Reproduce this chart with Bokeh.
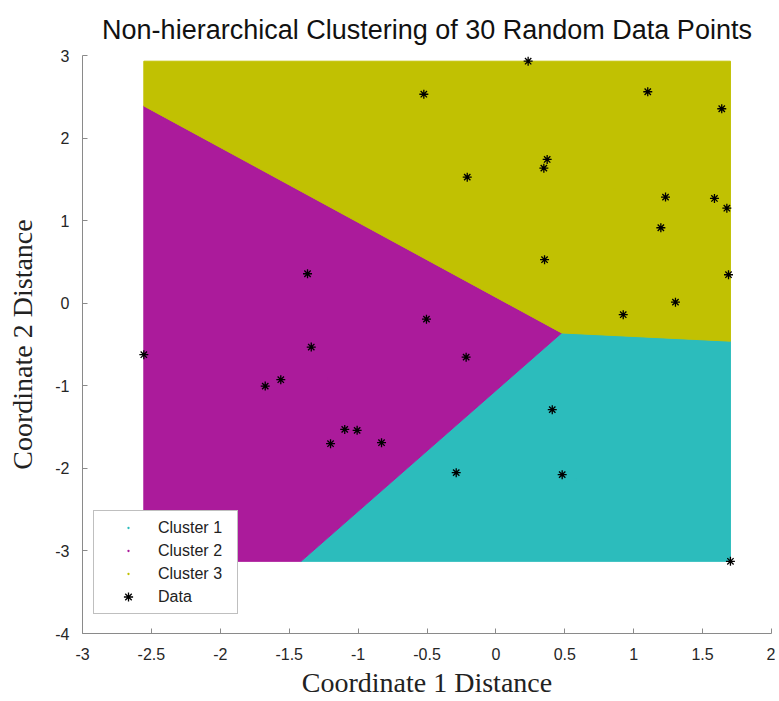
import numpy as np
from bokeh.plotting import figure
from bokeh.models import Legend, LegendItem, FixedTicker
from bokeh.embed import file_html
from bokeh.resources import INLINE

TITLE = "Non-hierarchical Clustering of 30 Random Data Points"
X_LABEL = "Coordinate 1 Distance"
Y_LABEL = "Coordinate 2 Distance"

# 30 data points and their cluster (1, 2, 3)
data_x = [-0.523, 0.234, 1.102, 1.639, 0.372, 0.348, -0.208, 1.231, 1.586, 1.676,
          1.197, 0.353, 1.688, 1.303, 0.924,
          -0.504, -1.367, -2.555, -1.340, -0.216, -1.674, -1.561, -1.097, -1.007,
          -1.200, -0.830,
          0.409, -0.288, 0.481, 1.702]
data_y = [2.531, 2.931, 2.561, 2.355, 1.741, 1.636, 1.527, 1.285, 1.269, 1.151,
          0.914, 0.527, 0.345, 0.013, -0.139,
          -0.193, 0.357, -0.623, -0.531, -0.653, -1.004, -0.926, -1.528, -1.540,
          -1.701, -1.689,
          -1.289, -2.052, -2.076, -3.126]
cluster = [3, 3, 3, 3, 3, 3, 3, 3, 3, 3,
           3, 3, 3, 3, 3,
           2, 2, 2, 2, 2, 2, 2, 2, 2,
           2, 2,
           1, 1, 1, 1]

cluster_names = ["Cluster 1", "Cluster 2", "Cluster 3"]
cluster_colors = ["#2cbcbc", "#ab1b9b", "#c1c102"]

x_ticks = [-3, -2.5, -2, -1.5, -1, -0.5, 0, 0.5, 1, 1.5, 2]
x_tick_labels = ["-3", "-2.5", "-2", "-1.5", "-1", "-0.5", "0", "0.5", "1", "1.5", "2"]
y_ticks = [-4, -3, -2, -1, 0, 1, 2, 3]
y_tick_labels = ["-4", "-3", "-2", "-1", "0", "1", "2", "3"]

# ---- cluster regions: nearest-centroid cells inside the data bounding box ----
X = np.array(data_x)
Y = np.array(data_y)
C = np.array(cluster)
cents = [(X[C == k].mean(), Y[C == k].mean()) for k in (1, 2, 3)]
xmin, xmax, ymin, ymax = X.min(), X.max(), Y.min(), Y.max()


def clip(poly, a, b, c):
    # keep the part of the polygon where a*x + b*y <= c
    out = []
    n = len(poly)
    for i in range(n):
        p1 = poly[i]
        p2 = poly[(i + 1) % n]
        v1 = a * p1[0] + b * p1[1] - c
        v2 = a * p2[0] + b * p2[1] - c
        if v1 <= 0:
            out.append(p1)
        if (v1 <= 0) != (v2 <= 0):
            t = v1 / (v1 - v2)
            out.append((p1[0] + t * (p2[0] - p1[0]), p1[1] + t * (p2[1] - p1[1])))
    return out


cell_xs, cell_ys = [], []
for k in range(3):
    poly = [(xmin, ymin), (xmax, ymin), (xmax, ymax), (xmin, ymax)]
    ck = cents[k]
    for j in range(3):
        if j == k:
            continue
        cj = cents[j]
        a = cj[0] - ck[0]
        b = cj[1] - ck[1]
        mx = (cj[0] + ck[0]) / 2
        my = (cj[1] + ck[1]) / 2
        poly = clip(poly, a, b, a * mx + b * my)
    cell_xs.append([q[0] for q in poly])
    cell_ys.append([q[1] for q in poly])

p = figure(width=775, height=701, x_range=(-3, 2), y_range=(-4, 3),
           output_backend="svg", toolbar_location=None, title=TITLE,
           min_border_left=82, min_border_right=4, min_border_top=55,
           min_border_bottom=68)
p.outline_line_color = None
p.xgrid.visible = False
p.ygrid.visible = False
p.background_fill_color = "white"
p.border_fill_color = "white"

p.title.text_font = "Liberation Sans"
p.title.text_font_size = "27px"
p.title.text_font_style = "normal"
p.title.align = "center"
p.title.vertical_align = "middle"
p.title.text_color = "#111111"
p.title.standoff = 20

cells = p.patches(xs=cell_xs, ys=cell_ys, fill_color=cluster_colors,
                  line_color=cluster_colors, line_width=1)

# small cluster-coloured dots (one at each centroid, inside its own-coloured cell)
leg_r = []
for k in range(3):
    r = p.scatter(x=[cents[k][0]], y=[cents[k][1]], marker="dot", size=10,
                  color=cluster_colors[k])
    leg_r.append(r)

pts = p.scatter(x=data_x, y=data_y, marker="asterisk", size=9,
                line_color="black", line_width=1.3)

for ax, ticks, labels in ((p.xaxis[0], x_ticks, x_tick_labels),
                          (p.yaxis[0], y_ticks, y_tick_labels)):
    ax.ticker = FixedTicker(ticks=ticks, minor_ticks=[])
    ax.major_label_overrides = {t: l for t, l in zip(ticks, labels)}
    ax.major_tick_in = 5
    ax.major_tick_out = 0
    ax.minor_tick_in = 0
    ax.minor_tick_out = 0
    ax.axis_line_color = "#8a8a8a"
    ax.major_tick_line_color = "#8a8a8a"
    ax.major_label_text_font = "Liberation Sans"
    ax.major_label_text_font_size = "16px"
    ax.major_label_text_color = "#262626"
    ax.axis_label_text_font = "Liberation Serif"
    ax.axis_label_text_font_size = "28px"
    ax.axis_label_text_font_style = "normal"
    ax.axis_label_text_color = "#222222"

p.xaxis.axis_label = X_LABEL
p.yaxis.axis_label = Y_LABEL
p.xaxis.major_label_standoff = 14
p.yaxis.major_label_standoff = 13
p.xaxis.axis_label_standoff = 4
p.yaxis.axis_label_standoff = 14

items = [LegendItem(label=cluster_names[k], renderers=[leg_r[k]]) for k in range(3)]
items.append(LegendItem(label="Data", renderers=[pts]))
legend = Legend(items=items, location=(11, 19), padding=5, spacing=0, margin=0,
                glyph_width=58, glyph_height=23, label_height=23, label_width=74,
                label_standoff=1, label_text_font="Liberation Sans",
                label_text_font_size="16px", label_text_color="#222222",
                border_line_color="#7f7f7f", border_line_width=1,
                background_fill_color="white", background_fill_alpha=1.0)
p.add_layout(legend)

open("out.html", "w").write(file_html(p, INLINE))
